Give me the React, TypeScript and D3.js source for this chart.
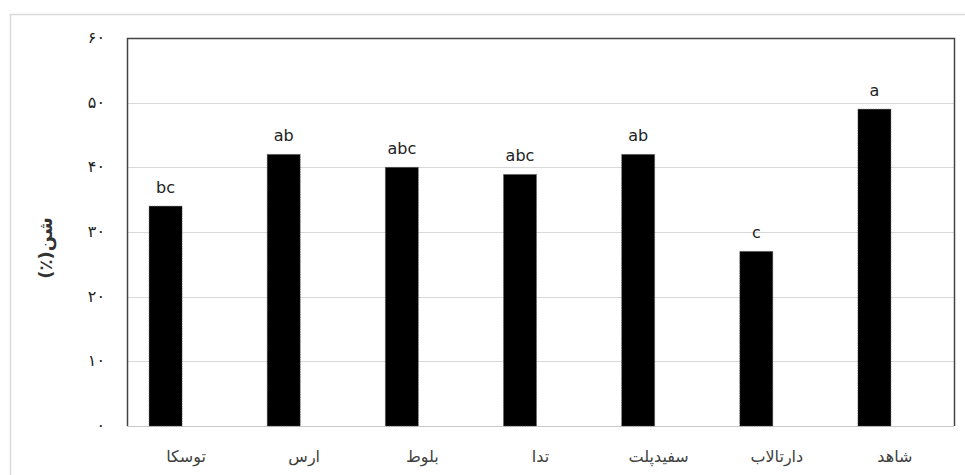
import React from "react";
import * as d3 from "d3";

const categories = ["توسکا", "ارس", "بلوط", "تدا", "سفیدپلت", "دارتالاب", "شاهد"];
const values = [34, 42, 40, 38.9, 42, 27, 49];
const letters = ["bc", "ab", "abc", "abc", "ab", "c", "a"];
const yTicks = [0, 10, 20, 30, 40, 50, 60];
const yTitle = "شن(٪)";

const W = 965;
const H = 475;
const plot = { left: 127, right: 954, top: 38, bottom: 426 };

const toPersian = (n: number) =>
  String(n).replace(/\d/g, (d) => "۰۱۲۳۴۵۶۷۸۹"[+d]);

export default function App() {
  const x = d3
    .scaleBand<string>()
    .domain(categories)
    .range([plot.left, plot.right])
    .padding(0);
  const y = d3.scaleLinear().domain([0, 60]).range([plot.bottom, plot.top]);
  const bw = 33;

  return (
    <div style={{ position: "fixed", left: 0, top: 0, width: W, height: H, background: "#fff" }}>
      <svg width={W} height={H} style={{ display: "block" }}>
        <rect x={0} y={0} width={W} height={H} fill="#fff" />
        {/* chart frame */}
        <rect x={10.5} y={14.5} width={W} height={H} fill="none" stroke="#d9d9d9" strokeWidth={1.5} />

        {/* gridlines */}
        {yTicks.slice(1, -1).map((t) => (
          <line
            key={t}
            x1={plot.left}
            x2={plot.right}
            y1={Math.round(y(t)) + 0.5}
            y2={Math.round(y(t)) + 0.5}
            stroke="#d9d9d9"
            strokeWidth={1}
          />
        ))}
        <line x1={plot.left} x2={plot.right} y1={plot.bottom + 0.5} y2={plot.bottom + 0.5} stroke="#c8c8c8" />

        {/* bars */}
        {categories.map((c, i) => {
          const cx = x(c)! + x.bandwidth() / 2;
          const x0 = cx - 4 - bw;
          return (
            <g key={c}>
              <rect
                x={x0}
                y={y(values[i])}
                width={bw}
                height={plot.bottom - y(values[i])}
                fill="#000"
                stroke="#555"
                strokeWidth={0.6}
                strokeDasharray="1.5 1"
              />
              <text
                x={x0 + bw / 2}
                y={y(values[i]) - 13}
                textAnchor="middle"
                fontFamily="'DejaVu Sans', Verdana, sans-serif"
                fontSize={16}
                fill="#222"
              >
                {letters[i]}
              </text>
              <text
                x={cx}
                y={462}
                textAnchor="middle"
                fontFamily="'DejaVu Sans', 'Noto Sans', sans-serif"
                fontSize={16}
                fill="#404040"
                direction="rtl"
              >
                {c}
              </text>
            </g>
          );
        })}

        {/* plot border */}
        <path
          d={`M${plot.left + 0.5},${plot.bottom} V${plot.top + 0.5} H${plot.right + 0.5} V${plot.bottom}`}
          fill="none"
          stroke="#444"
          strokeWidth={1.5}
        />

        {/* y tick labels */}
        {yTicks.map((t) => (
          <text
            key={t}
            x={105}
            y={y(t) + 5}
            textAnchor="end"
            fontFamily="'DejaVu Sans', 'Noto Sans', sans-serif"
            fontSize={16}
            fill="#222"
          >
            {toPersian(t)}
          </text>
        ))}

        {/* y axis title */}
        <text
          transform={`translate(52, 248) rotate(-90)`}
          textAnchor="middle"
          fontFamily="'DejaVu Sans', 'Noto Sans', sans-serif"
          fontSize={18}
          fontWeight="bold"
          fill="#333"
          direction="rtl"
        >
          {yTitle}
        </text>
      </svg>
    </div>
  );
}
